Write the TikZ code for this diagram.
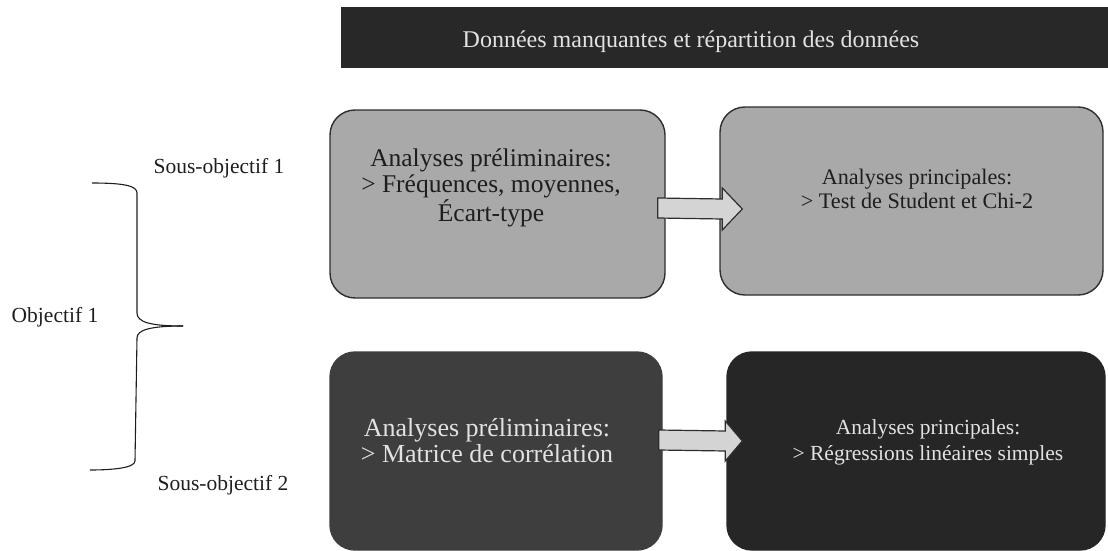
\documentclass[tikz,border=0pt]{standalone}
\usepackage{fontspec}
\setmainfont{Liberation Serif}
\usetikzlibrary{calc}

\definecolor{barfill}{HTML}{282828}
\definecolor{lightbox}{HTML}{A9A9A9}
\definecolor{midbox}{HTML}{3E3E3E}
\definecolor{darkbox}{HTML}{262626}
\definecolor{inktext}{HTML}{1E1E1E}
\definecolor{paletext}{HTML}{E2E2E2}
\definecolor{arrowfill}{HTML}{D4D4D4}
\definecolor{edge}{HTML}{2E2E2E}

\tikzset{
  stagebox/.style={draw=edge, line width=1.4pt, rounded corners=25pt, inner sep=0pt},
  boxtext/.style={align=center, inner sep=0pt},
  sidelabel/.style={inner sep=0pt, text=inktext, font=\fontsize{21.5}{24}\selectfont},
  fatarrow/.style={draw=edge, fill=arrowfill, line width=1.2pt, line join=miter},
  bracket/.style={draw=inktext, line width=1.1pt}
}

\begin{document}
\begin{tikzpicture}[x=1pt, y=-1pt]
\useasboundingbox (0,0) rectangle (1108,551);

% title bar
\node[fill=barfill, minimum width=767pt, minimum height=61pt, inner sep=0pt, anchor=north west] (bar) at (341,7) {};
\node[text=paletext, inner sep=0pt, font=\fontsize{24}{26}\selectfont] (title) at (691,42) {Données manquantes et répartition des données};

% stage boxes
\node[stagebox, fill=lightbox, minimum width=335pt, minimum height=188pt] (b1) at (497.5,204) {};
\node[stagebox, fill=lightbox, minimum width=383pt, minimum height=188pt] (b2) at (911.5,201) {};
\node[stagebox, fill=midbox, draw=midbox, minimum width=332pt, minimum height=198pt] (b3) at (496,451) {};
\node[stagebox, fill=darkbox, draw=darkbox, minimum width=378pt, minimum height=198pt] (b4) at (916,451) {};

% box texts
\node[boxtext, text=inktext, font=\fontsize{25.5}{26}\selectfont] (t1) at (491,188)
  {Analyses préliminaires:\\ > Fréquences, moyennes,\\ Écart-type};
\node[boxtext, text=inktext, font=\fontsize{22.2}{23.5}\selectfont] (t2) at (917,189)
  {Analyses principales:\\ > Test de Student et Chi-2};
\node[boxtext, text=paletext, font=\fontsize{26}{26}\selectfont] (t3) at (487,441)
  {Analyses préliminaires:\\ > Matrice de corrélation};
\node[boxtext, text=paletext, font=\fontsize{21.5}{26}\selectfont] (t4) at (928,442)
  {Analyses principales:\\ > Régressions linéaires simples};

% block arrows between the boxes
\coordinate (a1s) at ($(b1.east)+(-8,4)$);
\coordinate (a1e) at ($(b2.west)+(23,8)$);
\draw[fatarrow] ($(a1s)+(0,-10)$) -- ($(a1e)+(-20,-10)$) -- ($(a1e)+(-20,-21)$) -- (a1e)
  -- ($(a1e)+(-20,21)$) -- ($(a1e)+(-20,10)$) -- ($(a1s)+(0,10)$) -- cycle;

\coordinate (a2s) at ($(b3.east)+(-4,-11)$);
\coordinate (a2e) at ($(b4.west)+(16,-10)$);
\draw[fatarrow] ($(a2s)+(0,-10)$) -- ($(a2e)+(-17,-10)$) -- ($(a2e)+(-17,-20)$) -- (a2e)
  -- ($(a2e)+(-17,20)$) -- ($(a2e)+(-17,10)$) -- ($(a2s)+(0,10)$) -- cycle;

% objective labels and brace
\node[sidelabel] (so1) at (219,168) {Sous-objectif 1};
\node[sidelabel] (obj) at (55,317) {Objectif 1};
\node[sidelabel] (so2) at (223,485) {Sous-objectif 2};

\coordinate (brtop) at (92,183);
\coordinate (brtip) at (183,326);
\coordinate (brbot) at (90,470);
\draw[bracket] (brtop) .. controls (125,183) and (137,186) .. (137,193) -- (137,313)
  .. controls (137,322) and (150,326) .. (brtip);
\draw[bracket] (brtip) .. controls (150,326) and (137,330) .. (137,338) -- (135,461)
  .. controls (135,468) and (112,470) .. (brbot);
\end{tikzpicture}
\end{document}
